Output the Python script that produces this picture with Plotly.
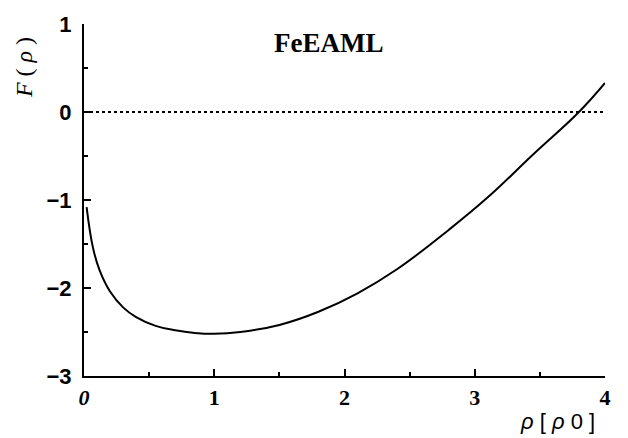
import plotly.graph_objects as go

# Embedding function F(rho) for the FeEAML potential, rho in units of rho0
rho = [0.02, 0.07, 0.12, 0.2, 0.3, 0.4, 0.55, 0.7, 0.85, 1.0, 1.2, 1.5,
       1.8, 2.1, 2.4, 2.8, 3.1, 3.45, 3.8, 4.0]
F = [-1.08, -1.55, -1.80, -2.04, -2.22, -2.33, -2.43, -2.48, -2.51, -2.52, -2.50, -2.42,
     -2.27, -2.06, -1.79, -1.34, -0.97, -0.48, 0.0, 0.33]

x_ticks = [0, 1, 2, 3, 4]
x_ticktext = ["<i>0</i>", "1", "2", "3", "4"]
y_ticks = [1, 0, -1, -2, -3]
y_ticktext = ["1", "0", "\u22121", "\u22122", "\u22123"]

fig = go.Figure()
fig.add_trace(go.Scatter(x=rho, y=F, mode="lines",
                         line=dict(color="black", width=2, shape="spline", smoothing=1.2),
                         showlegend=False, hoverinfo="skip"))

# zero reference line
fig.add_shape(type="line", xref="x", yref="y", x0=0, x1=4, y0=0, y1=0,
              line=dict(color="black", width=2, dash="dot"))

axis_common = dict(showline=True, linecolor="black", linewidth=2, mirror=False,
                   ticks="inside", ticklen=7, tickwidth=2, tickcolor="black",
                   showgrid=False, zeroline=False,
                   minor=dict(ticks="inside", ticklen=4, tickwidth=1.5, tickcolor="black",
                              dtick=0.5, showgrid=False))

fig.update_xaxes(range=[0, 4], tickvals=x_ticks, ticktext=x_ticktext,
                 tickfont=dict(family="Liberation Serif", size=22, color="black", weight="bold"),
                 ticklabelstandoff=1,
                 **axis_common)
fig.update_yaxes(range=[-3, 1], tickvals=y_ticks, ticktext=y_ticktext,
                 tickfont=dict(family="Liberation Sans", size=22, color="black", weight="bold"),
                 ticklabelstandoff=6,
                 **axis_common)

fig.add_annotation(x=0.47, y=0.945, xref="paper", yref="paper", showarrow=False,
                   text="FeEAML", xanchor="center", yanchor="middle",
                   font=dict(family="Liberation Serif", size=27, color="black", weight="bold"))
fig.add_annotation(x=-0.115, y=0.875, xref="paper", yref="paper", showarrow=False,
                   text="<i>F</i> ( <i>\u03c1</i> )", textangle=-90,
                   xanchor="center", yanchor="middle",
                   font=dict(family="Liberation Serif", size=24, color="black"))
fig.add_annotation(x=0.985, y=-0.128, xref="paper", yref="paper", showarrow=False,
                   text="<i>\u03c1</i> [ <i>\u03c1</i> 0 ]", xanchor="right", yanchor="middle",
                   font=dict(family="Liberation Sans", size=22, color="black"))

fig.update_layout(width=628, height=438, paper_bgcolor="white", plot_bgcolor="white",
                  margin=dict(l=84, r=23, t=19, b=62))

fig.write_html("out.html")
